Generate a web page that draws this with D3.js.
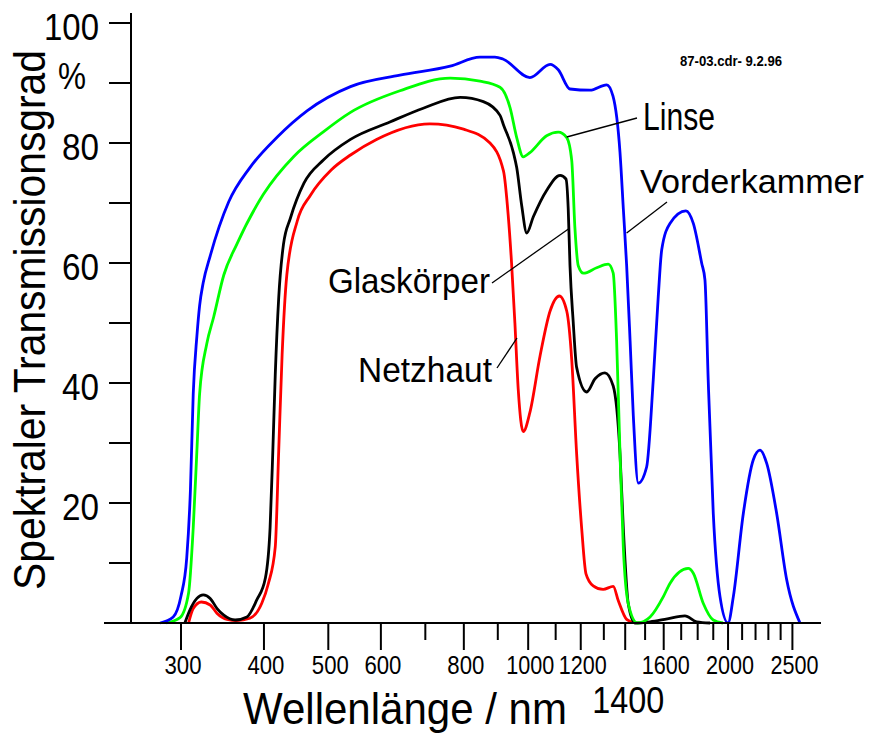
<!DOCTYPE html>
<html>
<head>
<meta charset="utf-8">
<script src="https://cdn.jsdelivr.net/npm/d3@7/dist/d3.min.js"></script>
<style>
body { margin: 0; background: #fff; }
text { font-family: "Liberation Sans", Arial, sans-serif; fill: #000; }
</style>
</head>
<body>
<div id="chart"></div>
<script>
// [Wellenlänge nm, Transmission %]
var vorderkammer = [[279,0],[292,1],[300,4.5],[306,10.8],[310,22.3],[313,38.2],[317,47.8],[320,52.9],[324,56.7],[332,61.2],
    [354,70.2],[381,75.9],[419,81],[465,85.4],[540,89.4],[641,91.3],[763,92.8],[846,94.3],[891,94.3],[916,94],
    [1006,90.9],[1079,93.1],[1110,92.2],[1156,89],[1239,88.8],[1313,89.7],[1342,87.8],[1375,78.4],[1391,69],[1407,59.6],
    [1424,47],[1440,34.5],[1465,23.3],[1508,26],[1543,40.5],[1570,54.4],[1589,62.2],[1635,66.6],[1728,68.7],[1773,66.6],
    [1825,60],[1846,57.2],[1867,40.5],[1900,18.3],[1945,4.4],[2000,0],[2037,4.4],[2109,18.3],[2183,27.2],[2234,28.8],
    [2287,26.6],[2367,18.3],[2451,7.2],[2567,0]];

var linse = [[285,0],[299,0.9],[308,5],[313,15.9],[317,28.7],[320,38.2],[328,46.5],[336,51],[348,58],[364,63.1],
    [399,71.4],[444,77.8],[492,81.9],[540,85.1],[641,88.7],[763,90.8],[846,90.3],[907,89.3],[939,85.9],[961,80.9],
    [983,77.7],[1006,78.4],[1066,81.2],[1110,81.8],[1143,80.9],[1163,77.1],[1176,65.8],[1190,59.5],[1211,58.3],[1268,59.2],
    [1320,59.8],[1343,58.3],[1359,47],[1375,28.2],[1391,12.5],[1415,3.2],[1460,0],[1526,1],[1598,4.4],[1635,6.6],
    [1742,9.1],[1773,8.3],[1835,3.3],[1900,0.5],[1965,0]];

var glaskoerper = [[304,0],[309.5,2.2],[317,4.1],[324,4.7],[332,4.1],[340,2.4],[348,1.3],[362,0.5],[377,1],[390,3.8],
    [402,7.5],[408.6,15.9],[412.5,28.7],[416,41.4],[421,54.2],[428,63.1],[438.5,67.5],[459.5,73.3],[492,77.2],[540,80.6],
    [619,83.5],[695,85.8],[790,87.6],[856,86.9],[907,84.6],[918,83],[950,78.4],[961,75.9],[978,69.5],[995,65],
    [1018,67.7],[1066,72.1],[1117,74.6],[1140,74],[1149,69],[1156,59.6],[1169,50.2],[1183,42.6],[1225,38.5],[1261,40.7],
    [1305,41.7],[1343,39.5],[1375,28.2],[1391,15.7],[1415,3.2],[1448,0],[1526,0.2],[1620,0.7],[1722,1.2],[1794,0.2],[1879,0]];

var netzhaut = [[308,0],[313,2.4],[322,3.5],[332,3],[340,1.6],[352,0.6],[364,0.4],[381,0.8],[397,3.3],[406,6.5],
    [416,12.7],[421,28.7],[426,44.7],[433,58],[449,67],[470,71.3],[505,75.5],[540,78],[591,80.6],[711,83.2],
    [799,82.3],[876,80],[918,75.3],[933,68],[944,60],[955,50],[966,39],[983,31.9],[1006,35.1],[1042,44.5],
    [1079,52],[1114,54.5],[1143,52],[1163,43.9],[1183,28.2],[1204,15.7],[1222,8.2],[1253,6.2],[1297,5.6],[1343,6.1],
    [1367,3.7],[1407,0.6],[1448,0]];

var yTickValues = [10,20,30,40,50,60,70,80,90,100];
var yTickLabels = [20,40,60,80,100];
var xTicksMajor = [300,400,500,600,800,1000,1200,1400,1600,2000,2500];
var xTicksMinor = [700,900,1100,1300,1500,1700,1800,1900,2100,2200,2300,2400];
var xTickLabels = [300,400,500,600,800,1000,1200,1600,2000,2500];
var xTickLabelBig = 1400;

var width = 872;
var height = 733;

var svg = d3.select("#chart")
    .append("svg")
    .attr("width", width)
    .attr("height", height);

// log scale for wavelength, linear for percent
var x = d3.scaleLog().domain([300, 2500]).range([181, 792.4]);
var y = d3.scaleLinear().domain([0, 100]).range([623, 23]);

var line = d3.line()
    .x(function(d){ return x(d[0]); })
    .y(function(d){ return y(d[1]); })
    .curve(d3.curveMonotoneX);

var series = [
    {name: "Netzhaut", data: netzhaut, color: "#ff0000"},
    {name: "Glaskörper", data: glaskoerper, color: "#000000"},
    {name: "Linse", data: linse, color: "#00ff00"},
    {name: "Vorderkammer", data: vorderkammer, color: "#0000ff"}
];

svg.selectAll("path.curve")
    .data(series)
    .enter()
    .append("path")
    .attr("class", "curve")
    .attr("d", function(d){ return line(d.data); })
    .attr("fill", "none")
    .attr("stroke", function(d){ return d.color; })
    .attr("stroke-width", 2.8)
    .attr("stroke-linejoin", "round");

// axes lines
svg.append("line")
    .attr("x1", 131).attr("x2", 131)
    .attr("y1", 13).attr("y2", y(0))
    .attr("stroke", "#000").attr("stroke-width", 2);

svg.append("line")
    .attr("x1", 104).attr("x2", 821)
    .attr("y1", y(0)).attr("y2", y(0))
    .attr("stroke", "#000").attr("stroke-width", 2.2);

svg.selectAll("line.ytick")
    .data(yTickValues)
    .enter()
    .append("line")
    .attr("class", "ytick")
    .attr("x1", 109).attr("x2", 131)
    .attr("y1", function(d){ return y(d); })
    .attr("y2", function(d){ return y(d); })
    .attr("stroke", "#000").attr("stroke-width", 2);

svg.selectAll("text.ylabel")
    .data(yTickLabels)
    .enter()
    .append("text")
    .attr("class", "ylabel")
    .attr("x", 99)
    .attr("y", function(d){ return y(d) + 16.5; })
    .attr("text-anchor", "end")
    .attr("font-size", 36)
    .attr("textLength", function(d){ return d >= 100 ? 55 : 37; })
    .attr("lengthAdjust", "spacingAndGlyphs")
    .text(function(d){ return d; });

svg.append("text")
    .attr("x", 58).attr("y", 89)
    .attr("font-size", 36)
    .attr("textLength", 28)
    .attr("lengthAdjust", "spacingAndGlyphs")
    .text("%");

svg.selectAll("line.xmajor")
    .data(xTicksMajor)
    .enter()
    .append("line")
    .attr("class", "xmajor")
    .attr("x1", function(d){ return x(d); })
    .attr("x2", function(d){ return x(d); })
    .attr("y1", y(0)).attr("y2", 650)
    .attr("stroke", "#000").attr("stroke-width", 2);

svg.selectAll("line.xminor")
    .data(xTicksMinor)
    .enter()
    .append("line")
    .attr("class", "xminor")
    .attr("x1", function(d){ return x(d); })
    .attr("x2", function(d){ return x(d); })
    .attr("y1", y(0)).attr("y2", 640)
    .attr("stroke", "#000").attr("stroke-width", 2);

svg.selectAll("text.xlabel")
    .data(xTickLabels)
    .enter()
    .append("text")
    .attr("class", "xlabel")
    .attr("x", function(d){ return x(d) + 2; })
    .attr("y", 674)
    .attr("text-anchor", "middle")
    .attr("font-size", 25)
    .attr("textLength", function(d){ return d >= 1000 ? 48 : 37; })
    .attr("lengthAdjust", "spacingAndGlyphs")
    .text(function(d){ return d; });

// the 1400 label sits lower and larger, as in the original
svg.append("text")
    .attr("x", x(xTickLabelBig) + 3)
    .attr("y", 713)
    .attr("text-anchor", "middle")
    .attr("font-size", 36)
    .attr("textLength", 72)
    .attr("lengthAdjust", "spacingAndGlyphs")
    .text(xTickLabelBig);

// axis titles
svg.append("text")
    .attr("x", 243).attr("y", 724)
    .attr("font-size", 45)
    .attr("textLength", 324)
    .attr("lengthAdjust", "spacingAndGlyphs")
    .text("Wellenlänge / nm");

svg.append("text")
    .attr("transform", "translate(45,320) rotate(-90)")
    .attr("text-anchor", "middle")
    .attr("font-size", 44)
    .attr("textLength", 540)
    .attr("lengthAdjust", "spacingAndGlyphs")
    .text("Spektraler Transmissionsgrad");

svg.append("text")
    .attr("x", 680).attr("y", 66)
    .attr("font-size", 14)
    .attr("font-weight", "bold")
    .attr("textLength", 102)
    .attr("lengthAdjust", "spacingAndGlyphs")
    .text("87-03.cdr- 9.2.96");

// curve labels with leader lines (point on the curve given in data units)
var labels = [
    {text: "Linse", tx: 643, ty: 130, size: 39, len: 72, lx: 637, ly: 118, at: [1143, 81]},
    {text: "Vorderkammer", tx: 640, ty: 193, size: 34, len: 224, lx: 667, ly: 202, at: [1407, 65]},
    {text: "Glaskörper", tx: 328, ty: 293, size: 35, len: 162, lx: 492, ly: 283, at: [1154, 65.8]},
    {text: "Netzhaut", tx: 358, ty: 382, size: 35, len: 134, lx: 497, ly: 368, at: [962, 47.5]}
];

svg.selectAll("line.leader")
    .data(labels)
    .enter()
    .append("line")
    .attr("class", "leader")
    .attr("x1", function(d){ return d.lx; })
    .attr("y1", function(d){ return d.ly; })
    .attr("x2", function(d){ return x(d.at[0]); })
    .attr("y2", function(d){ return y(d.at[1]); })
    .attr("stroke", "#000")
    .attr("stroke-width", 1.3);

svg.selectAll("text.serieslabel")
    .data(labels)
    .enter()
    .append("text")
    .attr("class", "serieslabel")
    .attr("x", function(d){ return d.tx; })
    .attr("y", function(d){ return d.ty; })
    .attr("font-size", function(d){ return d.size; })
    .attr("textLength", function(d){ return d.len; })
    .attr("lengthAdjust", "spacingAndGlyphs")
    .text(function(d){ return d.text; });
</script>
</body>
</html>
